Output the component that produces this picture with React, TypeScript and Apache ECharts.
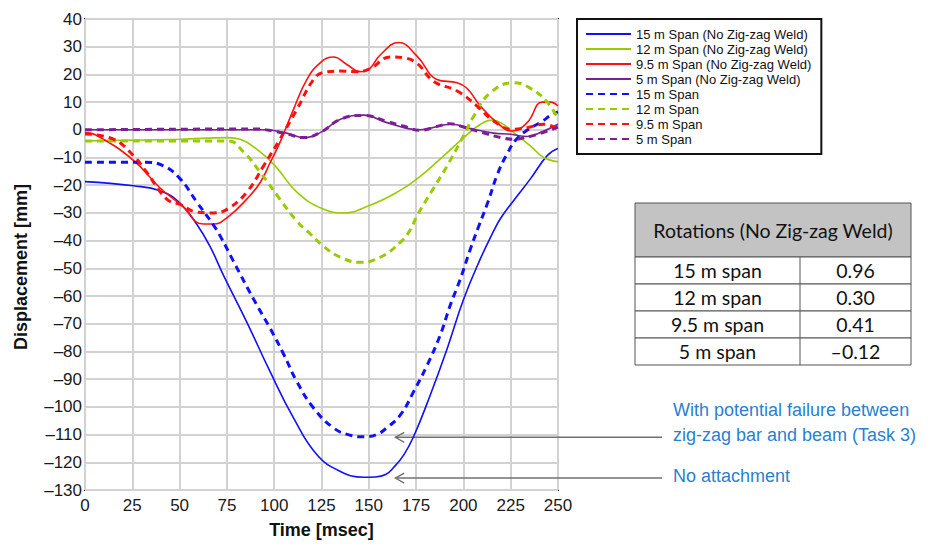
import React, { useEffect, useRef } from "react";
import * as echarts from "echarts";

// ---------- axes ----------
const X_MIN = 0;
const X_MAX = 250;
const X_STEP = 25;
const Y_MIN = -130;
const Y_MAX = 40;
const Y_STEP = 10;
const X_TITLE = "Time [msec]";
const Y_TITLE = "Displacement [mm]";

// ---------- series (time msec, displacement mm) ----------
const span15NoWeld: [number, number][] = [
  [0, -18.7], [25.6, -20.2], [39.7, -22], [50.3, -26.5], [59, -34], [66, -42], [73.2, -52.5],
  [85.5, -69.4], [97.9, -87.4], [110.2, -104], [122.6, -117.3], [135, -123.3], [147.3, -125.4],
  [153, -125.3], [158.9, -124.4], [163.2, -121.8], [168.5, -117.3], [173.7, -110.7],
  [182.5, -95.7], [191.4, -79], [200.2, -61], [209, -46.5], [216, -36.5], [219.6, -32],
  [226.6, -25.5], [235.4, -17.7], [244.3, -9.3], [250, -6.7],
];
const span12NoWeld: [number, number][] = [
  [0, -4], [50, -3.4], [75.5, -2.8], [82, -3.4], [90.8, -7], [100.5, -13], [112, -22.5],
  [125.6, -28.5], [136.7, -30], [150.4, -27.3], [165, -22.5], [175.5, -17.7], [187.8, -10.5],
  [200.2, -2.8], [209, 2], [215, 3.5], [220, 2.5], [226.6, -1], [235.4, -5.8], [242.5, -10], [250, -11.5],
];
const span95NoWeld: [number, number][] = [
  [0, -1], [6.2, -2], [25.6, -11], [39.7, -21], [50.6, -27], [62.6, -34], [68, -34], [75.5, -31.5],
  [85.5, -25], [92.6, -19], [97.9, -11.8], [103, -4.6], [110.2, 7.4], [117.3, 18.2], [124.3, 24.2],
  [131.4, 26.3], [138.4, 23.6], [145.5, 21], [150.4, 22], [156, 27], [165.8, 31.5], [175.5, 26.6],
  [186, 18.2], [196.7, 17], [201.9, 15], [209, 8.6], [217.8, 2.6], [225.7, -0.4], [233.7, 2.6],
  [241.6, 10], [246, 10], [250, 8.6],
];
const span5NoWeld: [number, number][] = [
  [0, 0], [95, 0], [106.7, -1.2], [115.5, -2.8], [124.3, -1], [135, 3.8], [147.3, 5.3],
  [159.6, 2.6], [177.2, 0], [193, 2], [205.5, 0.2], [216, -1.2], [224.9, -1.6], [233.7, -2.4],
  [242.5, -0.4], [250, 2],
];
const span15: [number, number][] = [
  [0, -11.7], [32, -11.7], [41.5, -13], [50.3, -17.7], [59, -26], [68, -34.5], [72, -39],
  [78.5, -47.5], [89, -61], [97.9, -71.7], [105, -81], [112, -90.9], [120.8, -100.4],
  [131.4, -107.6], [140, -110.2], [147.3, -110.8], [154, -110], [159.6, -107.5], [166.7, -102.9],
  [173.7, -94.5], [180.8, -85], [187.8, -74], [193, -63.4], [198.4, -53.8], [203.7, -43],
  [208, -35], [213, -26], [218, -16], [223, -8.8], [228, -3.4], [234, 0], [241, 2.8],
  [247, 5.6], [250, 6.5],
];
const span12: [number, number][] = [
  [0, -4], [75.5, -4], [83.8, -8], [92.6, -15.3], [103, -25], [112, -33], [119, -37.5],
  [126, -42], [135, -46], [145.5, -47.8], [156, -46], [166.7, -40.6], [172, -36], [175.5, -31],
  [184.3, -21], [191.4, -13], [200.2, -2], [205.5, 5], [214.3, 13.4], [226.6, 17], [235.4, 15],
  [244.3, 10], [250, 4],
];
const span95: [number, number][] = [
  [0, -1.5], [15, -3.4], [25.6, -9.3], [32.6, -15.3], [43.2, -25], [50.6, -27], [59, -29.7],
  [68, -30], [75.5, -28.5], [85.5, -22.5], [94.4, -13], [103, -3.4], [112, 7.4], [120.8, 18.2],
  [125.6, 20.6], [135, 21.2], [143.7, 21], [150.4, 22], [161.4, 26.3], [168.4, 26], [175.5, 24],
  [184.3, 17.5], [196.7, 14], [207.2, 8.6], [216, 3.2], [225.7, 0.2], [233.7, 0.8], [242.5, 2],
  [250, 0.2],
];
const span5: [number, number][] = [
  [0, 0], [90, 0.3], [100, -0.5], [106.7, -1.5], [115.5, -2.8], [124.3, -1], [135, 3.8],
  [147.3, 5.2], [159.6, 3], [170, 1], [177, -0.2], [185, 1], [193, 2.2], [200, 1], [210, -1],
  [220, -2.8], [227, -3.4], [235, -2.4], [242, -1], [250, 1],
];

const SERIES = [
  { name: "15 m Span (No Zig-zag Weld)", data: span15NoWeld, color: "#1010ff", dashed: false },
  { name: "12 m Span (No Zig-zag Weld)", data: span12NoWeld, color: "#99cc00", dashed: false },
  { name: "9.5 m Span (No Zig-zag Weld)", data: span95NoWeld, color: "#ff1010", dashed: false },
  { name: "5 m Span (No Zig-zag Weld)", data: span5NoWeld, color: "#7b1f96", dashed: false },
  { name: "15 m Span", data: span15, color: "#1010ff", dashed: true },
  { name: "12 m Span", data: span12, color: "#99cc00", dashed: true },
  { name: "9.5 m Span", data: span95, color: "#ff1010", dashed: true },
  { name: "5 m Span", data: span5, color: "#7b1f96", dashed: true },
];

// ---------- table ----------
const TABLE_HEADER = "Rotations (No Zig-zag Weld)";
const TABLE_SPANS = ["15 m span", "12 m span", "9.5 m span", "5 m span"];
const TABLE_ROTATIONS = ["0.96", "0.30", "0.41", "\u20130.12"];

// ---------- annotations ----------
const ANNOTATIONS = [
  { lines: ["With potential failure between", "zig-zag bar and beam (Task 3)"], tip: [164, -111] },
  { lines: ["No attachment"], tip: [164, -125.7] },
];

const FONT = "'Liberation Sans', Arial, sans-serif";
const TABLE_FONT = "Lato, 'Open Sans', sans-serif";

export default function App() {
  const ref = useRef<HTMLDivElement>(null);

  useEffect(() => {
    if (!ref.current) return;
    const chart = echarts.init(ref.current, undefined, { renderer: "svg" });

    const option: any = {
      animation: false,
      backgroundColor: "#ffffff",
      grid: {
        left: 85,
        right: 928 - 558,
        top: 19,
        bottom: 544 - 492,
        show: true,
        borderColor: "#1a1a1a",
        borderWidth: 2,
        backgroundColor: "#ffffff",
      },
      legend: {
        orient: "vertical",
        left: 577,
        top: 19,
        padding: [8, 10, 8, 8],
        itemWidth: 45,
        itemHeight: 14,
        itemGap: 1,
        borderColor: "#111",
        borderWidth: 2,
        backgroundColor: "#fff",
        itemStyle: { opacity: 0 },
        textStyle: { fontFamily: FONT, fontSize: 13, lineHeight: 14, color: "#111" },
        data: SERIES.map((s) => s.name),
      },
      xAxis: {
        type: "value",
        min: X_MIN,
        max: X_MAX,
        interval: X_STEP,
        name: X_TITLE,
        nameLocation: "middle",
        nameGap: 31,
        nameTextStyle: { fontFamily: FONT, fontSize: 18, fontWeight: "bold", color: "#111" },
        axisLine: { show: false },
        axisTick: { show: false },
        axisLabel: { fontFamily: FONT, fontSize: 17, color: "#1a1a1a", margin: 7 },
        splitLine: { show: true, lineStyle: { color: "#d2d2d2", width: 2 } },
      },
      yAxis: {
        type: "value",
        min: Y_MIN,
        max: Y_MAX,
        interval: Y_STEP,
        axisLine: { show: false },
        axisTick: { show: false },
        axisLabel: {
          fontFamily: FONT,
          fontSize: 17,
          color: "#1a1a1a",
          margin: 3,
          formatter: (v: number) => (v < 0 ? "\u2013" + Math.abs(v) : String(v)),
        },
        splitLine: { show: true, lineStyle: { color: "#d2d2d2", width: 2 } },
      },
      series: SERIES.map((s) => ({
        name: s.name,
        type: "line",
        data: s.data,
        smooth: 0.45,
        symbol: "none",
        color: s.color,
        lineStyle: s.dashed
          ? { color: s.color, width: 3, type: [7, 5] }
          : { color: s.color, width: 1.6 },
      })),
    };
    chart.setOption(option);

    // graphic elements: y title, table, annotations
    const graphic: any[] = [];
    graphic.push({
      type: "text",
      x: 21,
      y: 267,
      rotation: Math.PI / 2,
      style: {
        text: Y_TITLE,
        font: `bold 18px ${FONT}`,
        fill: "#111",
        align: "center",
        verticalAlign: "middle",
      },
    });

    // table
    const tX = 635, tY = 203, tW = 276, headH = 54, rowH = 27, divX = 800;
    const tFont = `19.5px ${TABLE_FONT}`;
    graphic.push({
      type: "rect",
      shape: { x: tX, y: tY, width: tW, height: headH },
      style: { fill: "#c3c3c3", stroke: "#555", lineWidth: 1 },
    });
    graphic.push({
      type: "text",
      x: tX + tW / 2,
      y: tY + headH / 2,
      style: { text: TABLE_HEADER, font: tFont, fill: "#111", align: "center", verticalAlign: "middle" },
    });
    TABLE_SPANS.forEach((label, i) => {
      const y0 = tY + headH + i * rowH;
      graphic.push({
        type: "rect",
        shape: { x: tX, y: y0, width: tW, height: rowH },
        style: { fill: "#fff", stroke: "#555", lineWidth: 1 },
      });
      graphic.push({
        type: "text",
        x: (tX + divX) / 2,
        y: y0 + rowH / 2,
        style: { text: label, font: tFont, fill: "#111", align: "center", verticalAlign: "middle" },
      });
      graphic.push({
        type: "text",
        x: (divX + tX + tW) / 2,
        y: y0 + rowH / 2,
        style: { text: TABLE_ROTATIONS[i], font: tFont, fill: "#111", align: "center", verticalAlign: "middle" },
      });
    });
    graphic.push({
      type: "line",
      shape: { x1: divX, y1: tY + headH, x2: divX, y2: tY + headH + TABLE_SPANS.length * rowH },
      style: { stroke: "#555", lineWidth: 1 },
    });

    // annotations with arrows
    const textX = 673;
    ANNOTATIONS.forEach((a) => {
      const p = chart.convertToPixel({ gridIndex: 0 }, a.tip) as number[];
      const tipX = p[0], tipY = p[1];
      graphic.push({
        type: "line",
        shape: { x1: tipX, y1: tipY, x2: 662, y2: tipY },
        style: { stroke: "#707070", lineWidth: 1.5 },
      });
      graphic.push({
        type: "polyline",
        shape: { points: [[tipX + 9, tipY - 5], [tipX, tipY], [tipX + 9, tipY + 5]] },
        style: { stroke: "#707070", lineWidth: 1.3, fill: "none" },
      });
      const n = a.lines.length;
      a.lines.forEach((ln, i) => {
        graphic.push({
          type: "text",
          x: textX,
          y: tipY - 2 + (i - (n - 1)) * 25,
          style: { text: ln, font: `18px ${FONT}`, fill: "#2a7fd0", align: "left", verticalAlign: "middle" },
        });
      });
    });

    chart.setOption({ graphic });

    return () => chart.dispose();
  }, []);

  return (
    <div
      ref={ref}
      style={{ position: "fixed", left: 0, top: 0, width: 928, height: 544, background: "#fff" }}
    />
  );
}
